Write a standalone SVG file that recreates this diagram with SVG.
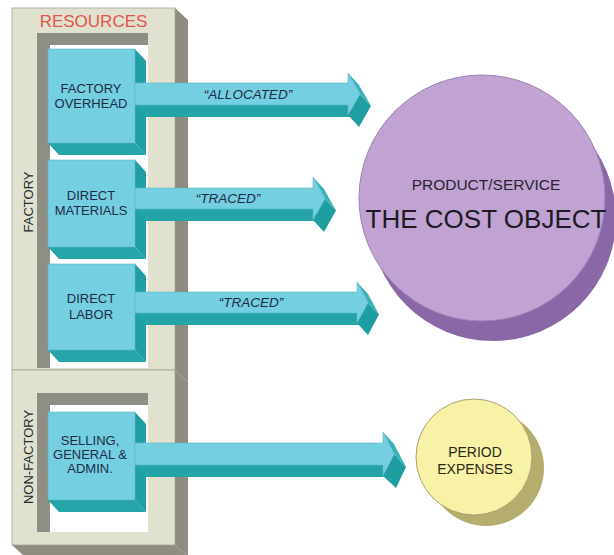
<svg xmlns="http://www.w3.org/2000/svg" width="614" height="555" viewBox="0 0 614 555">
<style>
.beige{fill:#e0e2cf;stroke:#a4a494;stroke-width:0.8}
.gside{fill:#8e8d80}
.wgray{fill:#8f8e84}
.white{fill:#ffffff}
.bfront{fill:#74cfe0;stroke:#5cb6c6;stroke-width:0.6}
.bside{fill:#1f9fa2}
.bbottom{fill:#24a5a7}
.afront{fill:#74cfe0;stroke:#5cb6c6;stroke-width:0.6}
.adepth{fill:#25a4a7}
.aup{fill:#38b3b8}
.alow{fill:#1e9ea1}
.lbl{font-family:"Liberation Sans",Arial,sans-serif;font-size:13px;fill:#1f2b46;text-anchor:middle}
.alab{font-family:"Liberation Sans",Arial,sans-serif;font-size:13.5px;font-style:italic;fill:#1f2b46;text-anchor:middle}
.side{font-family:"Liberation Sans",Arial,sans-serif;font-size:13px;fill:#222a33;text-anchor:middle}
</style>

<g id="frame">
  <!-- factory section -->
  <polygon class="gside" points="175,8 188,20 188,382 175,370"/>
  <rect class="beige" x="12" y="8" width="163" height="362"/>
  <polygon class="wgray" points="37,33 148,33 148,45 50,45 50,368 37,368"/>
  <rect class="white" x="50" y="45" width="98" height="323"/>
  <!-- non-factory section -->
  <polygon class="gside" points="175,370 188,382 188,557 175,545"/>
  <polygon class="gside" points="12,545 175,545 188,557 25,557"/>
  <rect class="beige" x="12" y="370" width="163" height="175"/>
  <polygon class="wgray" points="37,393 148,393 148,405 50,405 50,532 37,532"/>
  <rect class="white" x="50" y="405" width="98" height="127"/>
  <text x="93.5" y="27" font-family="'Liberation Sans',Arial,sans-serif" font-size="17" fill="#e4534a" text-anchor="middle">RESOURCES</text>
  <text class="side" transform="translate(33,202) rotate(-90)">FACTORY</text>
  <text class="side" transform="translate(33,457) rotate(-90)">NON-FACTORY</text>
</g>

<g id="factory-overhead">
  <polygon class="bside" points="135,49 146,61 146,155 135,143"/>
  <polygon class="bbottom" points="48,143 135,143 146,155 59,155"/>
  <rect class="bfront" x="48" y="49" width="87" height="94"/>
  <text class="lbl" x="91" y="93">FACTORY</text>
  <text class="lbl" x="91" y="108">OVERHEAD</text>
</g>

<g id="direct-materials">
  <polygon class="bside" points="135,160 146,172 146,259 135,247"/>
  <polygon class="bbottom" points="48,247 135,247 146,259 59,259"/>
  <rect class="bfront" x="48" y="160" width="87" height="87"/>
  <text class="lbl" x="91" y="200">DIRECT</text>
  <text class="lbl" x="91" y="215">MATERIALS</text>
</g>

<g id="direct-labor">
  <polygon class="bside" points="135,264 146,276 146,362 135,350"/>
  <polygon class="bbottom" points="48,350 135,350 146,362 59,362"/>
  <rect class="bfront" x="48" y="264" width="87" height="86"/>
  <text class="lbl" x="91" y="303">DIRECT</text>
  <text class="lbl" x="91" y="319">LABOR</text>
</g>

<g id="selling-general-admin">
  <polygon class="bside" points="135,412 146,424 146,512 135,500"/>
  <polygon class="bbottom" points="48,500 135,500 146,512 59,512"/>
  <rect class="bfront" x="48" y="412" width="87" height="88"/>
  <text class="lbl" x="90" y="445">SELLING,</text>
  <text class="lbl" x="90" y="459">GENERAL &amp;</text>
  <text class="lbl" x="90" y="473">ADMIN.</text>
</g>

<g id="cost-object">
  <circle cx="493" cy="218" r="123" fill="#8a68a8"/>
  <circle cx="482" cy="198" r="123" fill="#c0a3d3" stroke="#9c84b4" stroke-width="1"/>
  <text x="486" y="190" font-family="'Liberation Sans',Arial,sans-serif" font-size="15.5" fill="#2a2430" text-anchor="middle">PRODUCT/SERVICE</text>
  <text x="486" y="228" font-family="'Liberation Sans',Arial,sans-serif" font-size="26" fill="#1e1a24" text-anchor="middle">THE COST OBJECT</text>
</g>

<g id="period-expenses">
  <circle cx="486" cy="468" r="58" fill="#b4ad6e"/>
  <circle cx="474" cy="457" r="58" fill="#f7f2a6" stroke="#a9a070" stroke-width="1"/>
  <text x="475" y="457" font-family="'Liberation Sans',Arial,sans-serif" font-size="14" fill="#2a2818" text-anchor="middle">PERIOD</text>
  <text x="475" y="474" font-family="'Liberation Sans',Arial,sans-serif" font-size="14" fill="#2a2818" text-anchor="middle">EXPENSES</text>
</g>

<g id="connectors">
  <!-- allocated -->
  <g>
    <polygon class="adepth" points="135,105 348,105 359,117 146,117"/>
    <polygon class="alow" points="360,94 371,106 359,127 348,115"/>
    <polygon class="aup" points="348,73 359,85 371,106 360,94"/>
    <polygon class="afront" points="135,83 348,83 348,73 360,94 348,115 348,105 135,105"/>
    <text class="alab" x="248" y="99">“ALLOCATED”</text>
  </g>
  <!-- traced materials -->
  <g>
    <polygon class="adepth" points="135,209 313,209 324,221 146,221"/>
    <polygon class="alow" points="325,198.5 336,210.5 324,232 313,220"/>
    <polygon class="aup" points="313,177 324,189 336,210.5 325,198.5"/>
    <polygon class="afront" points="135,188 313,188 313,177 325,198.5 313,220 313,209 135,209"/>
    <text class="alab" x="228" y="203">“TRACED”</text>
  </g>
  <!-- traced labor -->
  <g>
    <polygon class="adepth" points="135,313 357,313 368,325 146,325"/>
    <polygon class="alow" points="368,302.5 379,314.5 368,335 357,323"/>
    <polygon class="aup" points="357,282 368,294 379,314.5 368,302.5"/>
    <polygon class="afront" points="135,292 357,292 357,282 368,302.5 357,323 357,313 135,313"/>
    <text class="alab" x="251" y="307">“TRACED”</text>
  </g>
  <!-- period -->
  <g>
    <polygon class="adepth" points="135,465 383,465 394,477 146,477"/>
    <polygon class="alow" points="394,454 406,467 396,488 383,476"/>
    <polygon class="aup" points="383,432 394,444 406,467 394,454"/>
    <polygon class="afront" points="135,443 383,443 383,432 394,454 383,476 383,465 135,465"/>
  </g>
</g>
</svg>
